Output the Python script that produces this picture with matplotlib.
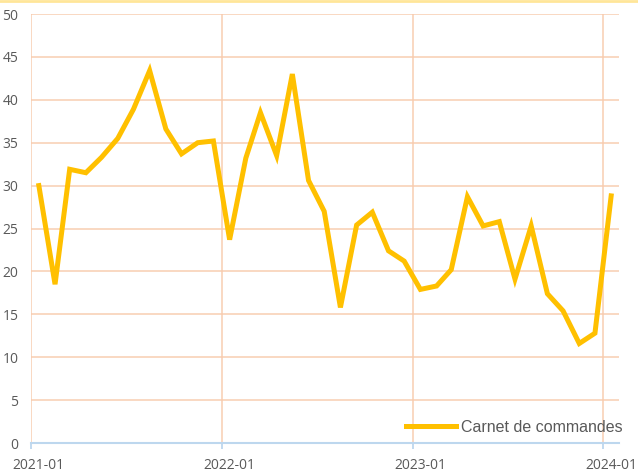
import numpy as np
import pandas as pd
import matplotlib.pyplot as plt
import matplotlib.dates as mdates
from matplotlib.lines import Line2D

# monthly values, Jan 2021 -> Jan 2024
months = pd.date_range("2021-01-01", "2024-01-01", freq="MS")
carnet = [30.0, 18.5, 31.9, 31.5, 33.3, 35.5, 38.9, 43.4, 36.6, 33.7, 35.0, 35.2,
          23.7, 33.2, 38.5, 33.5, 43.0, 30.6, 27.0, 15.8, 25.4, 26.9, 22.4, 21.2,
          17.9, 18.3, 20.2, 28.7, 25.3, 25.8, 19.1, 25.3, 17.4, 15.4, 11.6, 12.8,
          28.8]
year_ticks = ["2021-01", "2022-01", "2023-01", "2024-01"]

# points (and year labels) sit in the middle of each month
half = pd.Timedelta(days=15)
x = months + half

fig = plt.figure(figsize=(6.38, 4.73), dpi=100)
W, H = 638, 473
ax = fig.add_axes([31 / W, 30 / H, (619 - 31) / W, (443 - 14) / H])

grid_col = "#f8cbad"
for v in range(5, 55, 5):
    ax.axhline(v, color=grid_col, lw=1.3, alpha=0.8, zorder=1)
for t in year_ticks:
    ax.axvline(pd.Timestamp(t), color=grid_col, lw=1.3, alpha=0.8, zorder=1)

ax.plot(x, carnet, color="#ffc000", lw=3.6, solid_joinstyle="miter",
        label="Carnet de commandes", zorder=3)

ax.set_ylim(0, 50)
ax.set_xlim(pd.Timestamp("2021-01-01"), pd.Timestamp("2024-01-31"))
ax.set_yticks(range(0, 55, 5))
ax.set_xticks([pd.Timestamp(t) for t in year_ticks])
ax.set_xticklabels([])
ax.set_xticks([pd.Timestamp(t) + half for t in year_ticks], minor=True)
ax.set_xticklabels(year_ticks, minor=True)

for s in ["top", "right", "left"]:
    ax.spines[s].set_visible(False)
ax.spines["bottom"].set_color("#bdd7ee")
ax.spines["bottom"].set_linewidth(1.5)

ax.tick_params(axis="y", length=0, pad=9, labelsize=10, labelcolor="#595959")
ax.tick_params(axis="x", which="major", length=4, width=1.3, color="#bdd7ee")
ax.tick_params(axis="x", which="minor", length=0, pad=11,
               labelsize=10, labelcolor="#595959")
for lab in ax.get_xticklabels(minor=True) + ax.get_yticklabels():
    lab.set_fontfamily("Open Sans")

leg = ax.legend(loc="lower right", bbox_to_anchor=(1.03, -0.015), frameon=False,
                handlelength=3.1, handletextpad=0.3,
                prop={"family": "Liberation Sans", "size": 11.5})
for t in leg.get_texts():
    t.set_color("#595959")

# thin yellow band on top of the picture
fig.add_artist(Line2D([0, 1], [1 - 1 / H, 1 - 1 / H], transform=fig.transFigure,
                      color="#ffe699", lw=2))

fig.savefig("out.png", dpi=100)
